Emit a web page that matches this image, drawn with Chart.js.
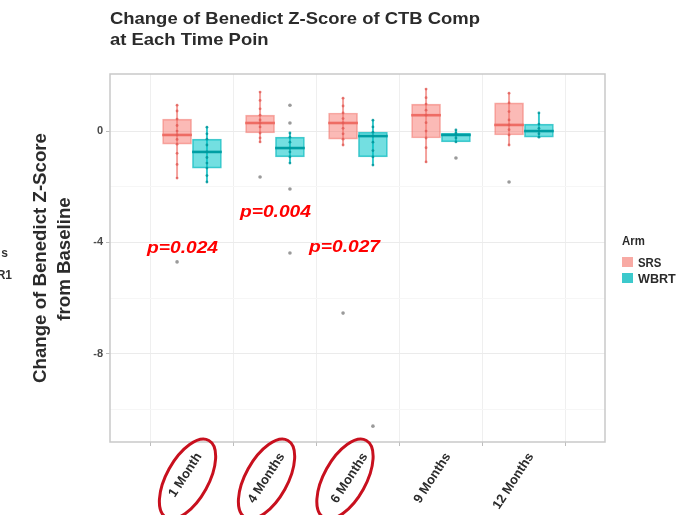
<!DOCTYPE html>
<html><head><meta charset="utf-8">
<script src="https://cdn.jsdelivr.net/npm/chart.js@4/dist/chart.umd.min.js"></script>
<style>html,body{margin:0;padding:0;background:#fff}#wrap{width:687px;height:515px;position:relative}</style>
</head><body><div id="wrap"><canvas id="c" width="687" height="515"></canvas></div>
<script>
// ---- data ----
const categories = ['1 Month', '4 Months', '6 Months', '9 Months', '12 Months'];
const yTickValues = [0, -4, -8];
const yMinorValues = [-10, -6, -2];
const arms = ['SRS', 'WBRT'];

const srsLow  = [-1.69, -0.39, -0.50, -1.11, -0.50];
const srsQ1   = [-0.47, -0.07, -0.29, -0.25, -0.14];
const srsMed  = [-0.14,  0.29,  0.29,  0.57,  0.22];
const srsQ3   = [ 0.43,  0.57,  0.65,  0.97,  1.01];
const srsHigh = [ 0.93,  1.40,  1.18,  1.51,  1.36];
const srsOut  = [[-4.70], [-1.65], [-6.54], [], [-1.83]];
const srsPts  = [
  [0.93, 0.72, 0.43, 0.20, 0.00, -0.14, -0.30, -0.47, -0.80, -1.20, -1.69],
  [1.40, 1.10, 0.80, 0.57, 0.40, 0.29, 0.15, -0.07, -0.25, -0.39],
  [1.18, 0.90, 0.65, 0.45, 0.29, 0.10, -0.10, -0.29, -0.50],
  [1.51, 1.20, 0.97, 0.75, 0.57, 0.30, 0.00, -0.25, -0.60, -1.11],
  [1.36, 1.01, 0.70, 0.40, 0.22, 0.05, -0.14, -0.50]
];

const wbrtLow  = [-1.83, -1.15, -1.22, -0.39, -0.22];
const wbrtQ1   = [-1.33, -0.93, -0.93, -0.39, -0.22];
const wbrtMed  = [-0.75, -0.61, -0.18, -0.14,  0.00];
const wbrtQ3   = [-0.29, -0.22, -0.04, -0.07,  0.25];
const wbrtHigh = [ 0.14, -0.07,  0.39,  0.04,  0.65];
const wbrtOut  = [[], [0.93, 0.29, -2.08, -4.38], [-10.6], [-0.97], []];
const wbrtPts  = [
  [0.14, -0.10, -0.29, -0.50, -0.75, -0.95, -1.15, -1.33, -1.60, -1.83],
  [-0.07, -0.22, -0.40, -0.61, -0.75, -0.93, -1.15],
  [0.39, 0.15, -0.04, -0.18, -0.40, -0.70, -0.93, -1.22],
  [0.04, -0.07, -0.14, -0.25, -0.39],
  [0.65, 0.25, 0.10, 0.00, -0.10, -0.22]
];

const pLabels = ['p=0.024', 'p=0.004', 'p=0.027'];
const titleLines = ['Change of Benedict Z-Score of CTB Comp', 'at Each Time Poin'];
const yTitleLines = ['Change of Benedict Z-Score', 'from Baseline'];

// ---- styling ----
const FONT = 'Liberation Sans, Arial, sans-serif';
const colSRS  = {fill:'rgba(248,118,109,0.5)', border:'rgba(240,110,100,0.55)', whisker:'rgba(240,120,112,0.7)', median:'#ee6c64', pt:'rgba(225,90,85,0.8)', key:'#f8aaa4'};
const colWBRT = {fill:'rgba(0,196,200,0.55)', border:'rgba(0,180,185,0.7)', whisker:'rgba(0,185,190,0.8)', median:'#009ea3', pt:'rgba(0,150,155,0.85)', key:'#3cc9cc'};
const OFF = 0.18;
const catX = categories.map((_, i) => i + 1);

function boxSets(name, xo, low, q1, med, q3, high, pts, outl, col) {
  const ptData = [], outData = [];
  pts.forEach((arr, i) => arr.forEach(v => ptData.push({x: catX[i] + xo, y: v})));
  outl.forEach((arr, i) => arr.forEach(v => outData.push({x: catX[i] + xo, y: v})));
  return [
    {type:'bar', label: name + ' whisker', data: catX.map((x, i) => ({x: x + xo, y: [low[i], high[i]]})),
     backgroundColor: col.whisker, barThickness: 1.3, grouped: false, order: 5},
    {type:'bar', label: name, data: catX.map((x, i) => ({x: x + xo, y: [q1[i], q3[i]]})),
     backgroundColor: col.fill, borderColor: col.border, borderWidth: 1, borderSkipped: false,
     barThickness: 29, grouped: false, order: 4},
    {type:'bar', label: name + ' median', data: catX.map((x, i) => ({x: x + xo, y: [med[i] - 0.035, med[i] + 0.035]})),
     backgroundColor: col.median, barThickness: 29, grouped: false, order: 3},
    {type:'scatter', label: name + ' points', data: ptData, pointRadius: 1.4, pointBorderWidth: 0,
     backgroundColor: col.pt, order: 2},
    {type:'scatter', label: name + ' outliers', data: outData, pointRadius: 1.8, pointBorderWidth: 0,
     backgroundColor: 'rgba(120,120,120,0.75)', order: 1}
  ];
}

function drawText(ctx, s, x, y, font, color, sx, rot, center) {
  ctx.save();
  ctx.font = font; ctx.fillStyle = color; ctx.textBaseline = 'alphabetic'; ctx.textAlign = 'left';
  const m = ctx.measureText(s).width;
  ctx.translate(x, y);
  if (rot) ctx.rotate(rot);
  ctx.scale(sx || 1, 1);
  ctx.fillText(s, center ? -m / 2 : 0, 0);
  ctx.restore();
}
function widthOf(ctx, s, font) { ctx.save(); ctx.font = font; const w = ctx.measureText(s).width; ctx.restore(); return w; }

const annotations = {
  id: 'annotations',
  afterDraw(chart) {
    const ctx = chart.ctx, ca = chart.chartArea, xs = chart.scales.x, ys = chart.scales.y;
    // panel border
    ctx.save();
    ctx.strokeStyle = '#c9c9c9'; ctx.lineWidth = 1.5;
    ctx.strokeRect(ca.left, ca.top, ca.right - ca.left, ca.bottom - ca.top);
    ctx.restore();
    // title
    const tf = 'bold 17px ' + FONT;
    const tsx = 370 / widthOf(ctx, titleLines[0], tf);
    drawText(ctx, titleLines[0], 110, 24, tf, '#2b2b2b', tsx);
    drawText(ctx, titleLines[1], 110, 45, tf, '#2b2b2b', tsx);
    // y axis title
    const yf = 'bold 18px ' + FONT;
    const ysx = 250 / widthOf(ctx, yTitleLines[0], yf);
    drawText(ctx, yTitleLines[0], 46, 258, yf, '#2b2b2b', ysx, -Math.PI / 2, true);
    drawText(ctx, yTitleLines[1], 70, 259, yf, '#2b2b2b', ysx, -Math.PI / 2, true);
    // cut-off text at far left
    ctx.save(); ctx.font = 'bold 12px ' + FONT; ctx.fillStyle = '#333'; ctx.textAlign = 'right';
    ctx.fillText('s', 8, 257); ctx.fillText('R1', 12, 279); ctx.restore();
    // p-values
    const pPos = [[0.458, -4.38], [1.578, -3.09], [2.41, -4.34]];
    const pf = 'italic bold 17px ' + FONT;
    const psx = 71 / widthOf(ctx, pLabels[0], pf);
    pLabels.forEach((t, i) => {
      drawText(ctx, t, xs.getPixelForValue(pPos[i][0]), ys.getPixelForValue(pPos[i][1]), pf, '#ff0000', psx);
    });
    // red ellipses around first three x labels
    ctx.save();
    ctx.strokeStyle = '#c8101e'; ctx.lineWidth = 3;
    const eX = [0.946, 1.898, 2.843];
    eX.forEach(v => {
      ctx.beginPath();
      ctx.ellipse(xs.getPixelForValue(v), ca.bottom + 37, 44, 21, -61 * Math.PI / 180, 0, Math.PI * 2);
      ctx.stroke();
    });
    ctx.restore();
    // legend
    drawText(ctx, 'Arm', 622, 245, 'bold 12px ' + FONT, '#2b2b2b', 0.95);
    ctx.save();
    ctx.fillStyle = colSRS.key; ctx.fillRect(622, 257, 11, 10);
    ctx.fillStyle = colWBRT.key; ctx.fillRect(622, 273, 11, 10);
    ctx.restore();
    drawText(ctx, arms[0], 638, 267, 'bold 12px ' + FONT, '#2b2b2b', 0.95);
    drawText(ctx, arms[1], 638, 283, 'bold 12px ' + FONT, '#2b2b2b', 1.05);
  }
};

new Chart(document.getElementById('c'), {
  type: 'bar',
  data: {
    datasets: [
      ...boxSets('SRS', -OFF, srsLow, srsQ1, srsMed, srsQ3, srsHigh, srsPts, srsOut, colSRS),
      ...boxSets('WBRT', OFF, wbrtLow, wbrtQ1, wbrtMed, wbrtQ3, wbrtHigh, wbrtPts, wbrtOut, colWBRT)
    ]
  },
  options: {
    responsive: false,
    animation: false,
    devicePixelRatio: 1,
    layout: {padding: {top: 74, right: 82, left: 0, bottom: 0}},
    plugins: {legend: {display: false}, tooltip: {enabled: false}, title: {display: false}},
    scales: {
      x: {
        type: 'linear', min: 0.012, max: 5.976, offset: false,
        afterBuildTicks: s => { s.ticks = catX.map(v => ({value: v})); },
        afterFit: s => { s.height = 73; },
        ticks: {
          autoSkip: false, maxRotation: 57, minRotation: 57, padding: 4, labelOffset: 7,
          color: '#2b2b2b', font: {family: FONT, size: 13, weight: 'bold'},
          callback: v => categories[Math.round(v) - 1]
        },
        grid: {color: '#efefef', tickLength: 4, tickColor: '#bdbdbd', lineWidth: 1},
        border: {display: false}
      },
      y: {
        min: -11.17, max: 2.05,
        afterBuildTicks: s => {
          s.ticks = [...yMinorValues, ...yTickValues].sort((a, b) => a - b).map(v => ({value: v}));
        },
        afterFit: s => { s.width = 110; },
        ticks: {
          color: '#4a4a4a', font: {family: FONT, size: 11, weight: 'bold'}, padding: 3,
          callback: v => (yTickValues.includes(v) ? String(v) : '')
        },
        grid: {
          color: c => (yTickValues.includes(c.tick && c.tick.value) ? '#ebebeb' : '#f6f6f6'),
          tickColor: c => (yTickValues.includes(c.tick && c.tick.value) ? '#bdbdbd' : 'rgba(0,0,0,0)'),
          tickLength: 4
        },
        border: {display: false}
      }
    }
  },
  plugins: [annotations]
});
</script>
</body></html>
